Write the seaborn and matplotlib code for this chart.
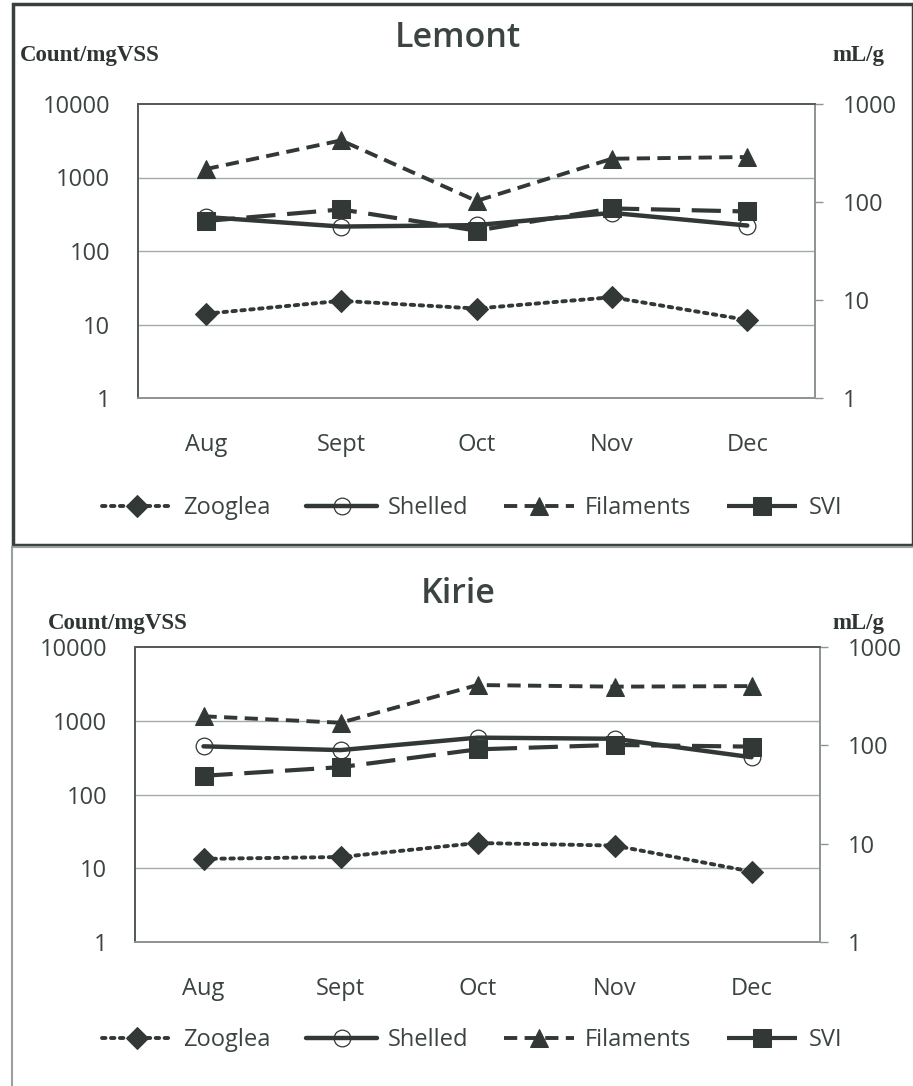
import matplotlib
matplotlib.use("Agg")
import matplotlib.pyplot as plt
import seaborn as sns
import pandas as pd
from matplotlib.patches import Rectangle
from matplotlib.ticker import FixedLocator, NullLocator

sns.set_theme(style="white")
plt.rcParams['font.family'] = ['Open Sans', 'DejaVu Sans']

months = ["Aug", "Sept", "Oct", "Nov", "Dec"]

# Lemont
lemont_zooglea = [14, 21, 16.5, 23.5, 11.5]
lemont_shelled = [290, 215, 225, 330, 222]
lemont_filaments = [1300, 3200, 480, 1800, 1900]
lemont_svi = [64, 84, 51, 86, 80]

# Kirie
kirie_zooglea = [13.4, 14.2, 22, 20.3, 9.0]
kirie_shelled = [450, 400, 590, 570, 320]
kirie_filaments = [1150, 940, 3050, 2900, 2950]
kirie_svi = [49, 60, 91, 101, 97]

INK = "#323836"
TXT = "#3b4441"

styles = {
    "Zooglea": dict(marker="D", markersize=11, linestyle=(0, (0.9, 1.4)), linewidth=2.8,
                    markerfacecolor=INK, markeredgecolor=INK, dash_capstyle="round"),
    "Shelled": dict(marker="o", markersize=12, linestyle="-", linewidth=3.2,
                    markerfacecolor="none", markeredgecolor=INK, markeredgewidth=0.9),
    "Filaments": dict(marker="^", markersize=13, linestyle=(0, (3.4, 1.9)), linewidth=2.8,
                      markerfacecolor=INK, markeredgecolor=INK),
    "SVI": dict(marker="s", markersize=12.5, linestyle=(0, (7.0, 2.8)), linewidth=3.0,
                markerfacecolor=INK, markeredgecolor=INK),
}

fig = plt.figure(figsize=(9.13, 10.86), dpi=100)
W, H = 913, 1086


def fx(px):
    return px / W


def fy(py):
    return 1 - py / H


def panel(rect, title, zoo, shel, fil, svi, title_y, unit_y, unit_x, legend_y):
    left, top, right, bottom = rect
    ax = fig.add_axes([fx(left), fy(bottom), fx(right) - fx(left), fy(top) - fy(bottom)])
    ax2 = ax.twinx()
    df = pd.DataFrame({"month": months, "Zooglea": zoo, "Shelled": shel,
                       "Filaments": fil, "SVI": svi})
    handles = []
    for name in ["Zooglea", "Shelled", "Filaments"]:
        sns.lineplot(data=df, x="month", y=name, ax=ax, color=INK, sort=False,
                     label=name, legend=False, **styles[name])
        handles.append(ax.lines[-1])
    sns.lineplot(data=df, x="month", y="SVI", ax=ax2, color=INK, sort=False,
                 label="SVI", legend=False, **styles["SVI"])
    handles.append(ax2.lines[-1])

    ax.set_yscale("log")
    ax.set_ylim(1, 10000)
    ax2.set_yscale("log")
    ax2.set_ylim(1, 1000)
    ax.set_xlim(-0.5, 4.5)
    ax.set_xlabel("")
    ax.set_ylabel("")
    ax2.set_ylabel("")

    ax.yaxis.set_major_locator(FixedLocator([1, 10, 100, 1000, 10000]))
    ax.yaxis.set_minor_locator(NullLocator())
    ax.set_yticklabels(["1", "10", "100", "1000", "10000"])
    ax2.yaxis.set_major_locator(FixedLocator([1, 10, 100, 1000]))
    ax2.yaxis.set_minor_locator(NullLocator())
    ax2.set_yticklabels(["1", "10", "100", "1000"])

    ax.grid(False)
    for v in [10, 100, 1000]:
        ax.axhline(v, color="#a3aaa8", linewidth=1.0, zorder=0)

    ax.tick_params(axis="y", length=0, pad=20, labelsize=17, labelcolor=TXT)
    ax.tick_params(axis="x", length=0, pad=25, labelsize=17, labelcolor=TXT)
    ax2.tick_params(axis="y", length=6, width=1, color="#8e9593", pad=14,
                    labelsize=17, labelcolor=TXT, direction="out")

    for a in (ax, ax2):
        a.spines["left"].set_color("#555b59")
        a.spines["top"].set_color("#555b59")
        a.spines["bottom"].set_color("#8e9593")
        a.spines["right"].set_color("#8e9593")
        for s in a.spines.values():
            s.set_linewidth(1.3)
    ax.patch.set_alpha(0)

    fig.text(fx(458), fy(title_y), title, ha="center", va="center",
             fontsize=24.5, fontweight="semibold", color=TXT)
    fig.text(fx(unit_x), fy(unit_y), "Count/mgVSS", ha="left", va="center",
             fontsize=16.5, fontweight="bold", family="Liberation Serif", color="#2e3532")
    fig.text(fx(884), fy(unit_y), "mL/g", ha="right", va="center",
             fontsize=16.5, fontweight="bold", family="Liberation Serif", color="#2e3532")

    fig.legend(handles, ["Zooglea", "Shelled", "Filaments", "SVI"],
               loc="center", bbox_to_anchor=(fx(472), fy(legend_y)), ncol=4,
               frameon=False, fontsize=17, handlelength=3.0, handletextpad=0.45,
               columnspacing=1.5, labelcolor=TXT, borderaxespad=0)
    return ax, ax2


panel((138, 104, 815, 398), "Lemont", lemont_zooglea, lemont_shelled,
      lemont_filaments, lemont_svi, title_y=38, unit_y=56, unit_x=20, legend_y=508)
panel((135, 647, 820, 942), "Kirie", kirie_zooglea, kirie_shelled,
      kirie_filaments, kirie_svi, title_y=594, unit_y=623, unit_x=48, legend_y=1040)

# panel borders
fig.patches.append(Rectangle((fx(13), fy(545)), fx(913) - fx(13), fy(4) - fy(545),
                             transform=fig.transFigure, fill=False,
                             edgecolor="#3a403e", linewidth=2.5))
fig.patches.append(Rectangle((fx(12), fy(1090)), fx(915) - fx(12), fy(547) - fy(1090),
                             transform=fig.transFigure, fill=False,
                             edgecolor="#9aa09e", linewidth=1.5))

fig.savefig("out.png", dpi=100, facecolor="white")
